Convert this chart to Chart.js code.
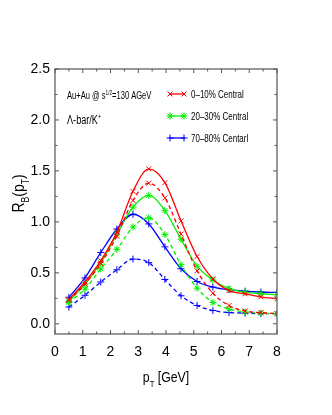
<!DOCTYPE html>
<html>
<head>
<meta charset="utf-8">
<script src="https://cdn.jsdelivr.net/npm/chart.js@4.4.1/dist/chart.umd.min.js"></script>
<style>
  html, body { margin: 0; padding: 0; background: #fff; }
  #wrap { width: 332px; height: 415px; }
</style>
</head>
<body>
<div id="wrap"><canvas id="rb"></canvas></div>
<script>
const pt = [0.5, 1.08, 1.65, 2.23, 2.81, 3.38, 3.96, 4.54, 5.12, 5.69, 6.27, 6.85, 7.42, 8.0]
const redSolid = [0.24, 0.41, 0.62, 0.90, 1.30, 1.52, 1.385, 1.01, 0.66, 0.44, 0.325, 0.295, 0.265, 0.245]
const redDashed = [0.23, 0.39, 0.59, 0.86, 1.21, 1.38, 1.235, 0.88, 0.52, 0.30, 0.18, 0.125, 0.11, 0.10]
const greenSolid = [0.22, 0.39, 0.60, 0.88, 1.145, 1.26, 1.11, 0.83, 0.565, 0.43, 0.345, 0.31, 0.295, 0.285]
const greenDashed = [0.21, 0.34, 0.54, 0.73, 0.95, 1.04, 0.875, 0.58, 0.35, 0.21, 0.145, 0.115, 0.105, 0.10]
const blueSolid = [0.26, 0.45, 0.70, 0.93, 1.075, 0.98, 0.755, 0.54, 0.415, 0.36, 0.335, 0.32, 0.312, 0.308]
const blueDashed = [0.165, 0.28, 0.41, 0.53, 0.635, 0.60, 0.435, 0.275, 0.18, 0.13, 0.11, 0.105, 0.10, 0.10]

const xTicks = [0, 1, 2, 3, 4, 5, 6, 7, 8]
const yTicks = [0.0, 0.5, 1.0, 1.5, 2.0, 2.5]
const legendLabels = ['0\u201310% Central', '20\u201330% Central', '70\u201380% Centarl']

const RED = '#ff0000'
const GREEN = '#00ee00'
const BLUE = '#0000ff'
const FONT = '"Liberation Sans", Arial, sans-serif'

const toPts = (ys) => ys.map((y, i) => ({x: pt[i], y: y}))

const series = (data, color, style, dashed) => ({
  data: toPts(data),
  borderColor: color,
  backgroundColor: color,
  borderWidth: 1.3,
  borderDash: dashed ? [4, 3] : [],
  pointStyle: style,
  pointRadius: 3.5,
  pointBorderWidth: 1,
  pointBorderColor: color,
  cubicInterpolationMode: 'monotone',
  fill: false,
})

// condensed text with sub/superscripts: parts = [[text, 'n'|'sub'|'sup'], ...]
function richText(ctx, parts, x, y, size, sq) {
  ctx.save()
  ctx.translate(x, y)
  ctx.scale(sq, 1)
  let cx = 0
  parts.forEach(([t, kind]) => {
    const s = kind === 'n' ? size : size * 0.62
    const dy = kind === 'sub' ? size * 0.3 : (kind === 'sup' ? -size * 0.42 : 0)
    ctx.font = s + 'px ' + FONT
    ctx.fillText(t, cx, dy)
    cx += ctx.measureText(t).width
  })
  ctx.restore()
}
function richWidth(ctx, parts, size, sq) {
  let w = 0
  parts.forEach(([t, kind]) => {
    const s = kind === 'n' ? size : size * 0.62
    ctx.font = s + 'px ' + FONT
    w += ctx.measureText(t).width
  })
  return w * sq
}

function marker(ctx, style, x, y, r) {
  const d = r * Math.SQRT1_2
  ctx.beginPath()
  if (style === 'cross' || style === 'star') {
    ctx.moveTo(x - r, y); ctx.lineTo(x + r, y)
    ctx.moveTo(x, y - r); ctx.lineTo(x, y + r)
  }
  if (style === 'crossRot' || style === 'star') {
    ctx.moveTo(x - d, y - d); ctx.lineTo(x + d, y + d)
    ctx.moveTo(x - d, y + d); ctx.lineTo(x + d, y - d)
  }
  ctx.stroke()
}

const decor = {
  id: 'decor',
  afterDraw(chart) {
    const {ctx, chartArea: a, scales} = chart
    const xs = scales.x, ys = scales.y
    ctx.save()
    // frame
    ctx.strokeStyle = '#555'
    ctx.lineWidth = 1.2
    ctx.strokeRect(a.left, a.top, a.right - a.left, a.bottom - a.top)
    // inward ticks
    ctx.lineWidth = 1
    ctx.beginPath()
    for (let v = 0; v <= 8.001; v += 0.5) {
      const px = xs.getPixelForValue(v)
      const len = Number.isInteger(v) ? 4 : 2.5
      ctx.moveTo(px, a.bottom); ctx.lineTo(px, a.bottom - len)
      ctx.moveTo(px, a.top); ctx.lineTo(px, a.top + len)
    }
    for (let v = 0; v <= 2.501; v += 0.25) {
      const py = ys.getPixelForValue(v)
      const len = Math.abs(v * 2 - Math.round(v * 2)) < 1e-6 ? 4 : 2.5
      ctx.moveTo(a.left, py); ctx.lineTo(a.left + len, py)
      ctx.moveTo(a.right, py); ctx.lineTo(a.right - len, py)
    }
    ctx.stroke()

    ctx.fillStyle = '#000'
    ctx.textBaseline = 'alphabetic'
    ctx.textAlign = 'left'
    // annotations
    richText(ctx, [['Au+Au @ s', 'n'], ['1/2', 'sup'], ['=130 AGeV', 'n']], 67, 99, 10.5, 0.72)
    richText(ctx, [['\u039B-bar/K', 'n'], ['+', 'sup']], 67, 124, 12, 0.76)

    // legend
    const ds = chart.data.datasets
    const rows = [[0, 94], [2, 116], [4, 138]]
    rows.forEach(([di, ly], k) => {
      const d = ds[di]
      ctx.strokeStyle = d.borderColor
      ctx.lineWidth = 1.3
      ctx.setLineDash([])
      ctx.beginPath(); ctx.moveTo(169, ly); ctx.lineTo(185, ly); ctx.stroke()
      ctx.lineWidth = 1
      marker(ctx, d.pointStyle, 170, ly, 3.5)
      marker(ctx, d.pointStyle, 184, ly, 3.5)
      ctx.fillStyle = '#000'
      richText(ctx, [[legendLabels[k], 'n']], 191, ly + 4, 10.5, 0.76)
    })

    // x title
    const xParts = [['p', 'n'], ['T', 'sub'], [' [GeV]', 'n']]
    const xw = richWidth(ctx, xParts, 15, 0.82)
    richText(ctx, xParts, (a.left + a.right) / 2 - xw / 2, 382, 15, 0.82)

    // y title
    const yParts = [['R', 'n'], ['B', 'sub'], ['(p', 'n'], ['T', 'sub'], [')', 'n']]
    const yw = richWidth(ctx, yParts, 17, 0.82)
    ctx.translate(24, (a.top + a.bottom) / 2 - 8)
    ctx.rotate(-Math.PI / 2)
    richText(ctx, yParts, -yw / 2, 0, 17, 0.82)
    ctx.restore()
  }
}

new Chart(document.getElementById('rb'), {
  type: 'line',
  data: {
    datasets: [
      series(redSolid, RED, 'crossRot', false),
      series(redDashed, RED, 'crossRot', true),
      series(greenSolid, GREEN, 'star', false),
      series(greenDashed, GREEN, 'star', true),
      series(blueSolid, BLUE, 'cross', false),
      series(blueDashed, BLUE, 'cross', true),
    ]
  },
  options: {
    responsive: true,
    maintainAspectRatio: false,
    animation: false,
    events: [],
    layout: {padding: {top: 69, right: 55, left: 0, bottom: 0}},
    scales: {
      x: {
        type: 'linear',
        min: 0,
        max: 8,
        afterBuildTicks: (s) => { s.ticks = xTicks.map(v => ({value: v})) },
        afterFit: (s) => { s.height = 81 },
        grid: {display: false, drawTicks: false},
        border: {display: false},
        ticks: {
          padding: 10,
          color: '#000',
          font: {family: FONT, size: 14},
          callback: (v) => String(v)
        }
      },
      y: {
        type: 'linear',
        min: -0.1,
        max: 2.5,
        afterBuildTicks: (s) => { s.ticks = yTicks.map(v => ({value: v})) },
        afterFit: (s) => { s.width = 55 },
        grid: {display: false, drawTicks: false},
        border: {display: false},
        ticks: {
          padding: 5,
          color: '#000',
          font: {family: FONT, size: 14},
          callback: (v) => v.toFixed(1)
        }
      }
    },
    plugins: {
      legend: {display: false},
      tooltip: {enabled: false}
    }
  },
  plugins: [decor]
});
</script>
</body>
</html>
